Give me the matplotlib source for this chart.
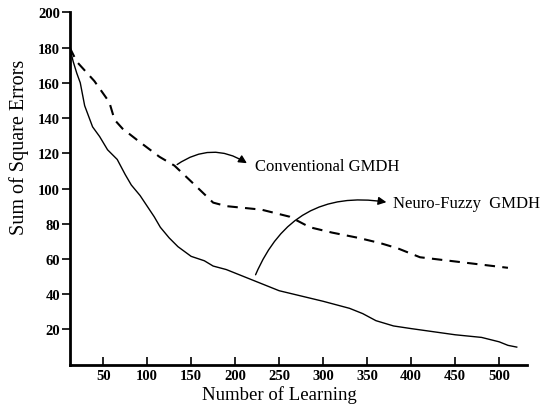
import matplotlib
matplotlib.use("Agg")
import matplotlib.pyplot as plt

plt.rcParams['font.family'] = ['Liberation Serif', 'DejaVu Serif']

# learning curves
nf_x = [12, 16, 20, 24, 29, 38, 46, 55, 66, 75, 82, 92, 100, 108, 115, 125,
        135, 150, 165, 175, 190, 200, 215, 225, 250, 275, 300, 330, 345, 360,
        380, 400, 450, 480, 500, 510, 520]
nf_y = [180, 172, 165.5, 160, 147, 135, 129.5, 122, 116.5, 108, 102, 96, 90,
        84, 78, 72, 67, 61.5, 59, 56, 54, 52, 49, 47, 42, 39, 36, 32, 29, 25,
        22, 20.5, 17, 15.5, 13, 11, 10]

conv_x = [12, 20, 40, 57, 63, 72, 90, 114, 131, 150, 175, 190, 230, 262, 285,
          310, 340, 365, 385, 410, 460, 510]
conv_y = [180, 172, 161, 149, 139, 134, 127, 118, 113, 104, 92, 90, 88, 84,
          78, 75, 72, 69, 66, 61, 58, 55]

xticks = [50, 100, 150, 200, 250, 300, 350, 400, 450, 500]
yticks = [20, 40, 60, 80, 100, 120, 140, 160, 180, 200]

fig = plt.figure(figsize=(5.51, 4.10), dpi=100)
ax = fig.add_axes([0.1265, 0.108, 0.8305, 0.8595])

ax.plot(nf_x, nf_y, color='black', lw=1.0)
ax.plot(conv_x, conv_y, color='black', lw=1.5, dashes=(5, 3.5))

ax.set_xlim(12, 532)
ax.set_ylim(0, 200)
ax.set_xticks(xticks)
ax.set_yticks(yticks)

for s in ['top', 'right']:
    ax.spines[s].set_visible(False)
for s in ['left', 'bottom']:
    ax.spines[s].set_linewidth(2)
ax.tick_params(axis='x', direction='in', length=6, width=1.2, labelsize=10.5, pad=3)
ax.tick_params(axis='y', direction='out', length=6, width=1.2, labelsize=10.5, pad=1)
for lab in ax.get_xticklabels() + ax.get_yticklabels():
    lab.set_fontweight('bold')

ax.set_xlabel('Number of Learning', fontsize=13.5)
ax.set_ylabel('Sum of Square Errors', fontsize=14.5)
ax.xaxis.set_label_coords(0.458, -0.058)
ax.yaxis.set_label_coords(-0.09, 0.62)

# annotations with curved arrows
ax.annotate('', xy=(216, 113.5), xytext=(131.5, 112.7),
            arrowprops=dict(arrowstyle='-|>', color='black', lw=1,
                            connectionstyle='arc3,rad=-0.35', mutation_scale=12))
ax.text(223, 113, 'Conventional GMDH', fontsize=12, va='center', ha='left')

ax.annotate('', xy=(375, 92), xytext=(222, 49.6),
            arrowprops=dict(arrowstyle='-|>', color='black', lw=1,
                            connectionstyle='arc3,rad=-0.4', mutation_scale=12))
ax.text(379, 92, 'Neuro-Fuzzy  GMDH', fontsize=12, va='center', ha='left')

fig.savefig('out.png', dpi=100)
